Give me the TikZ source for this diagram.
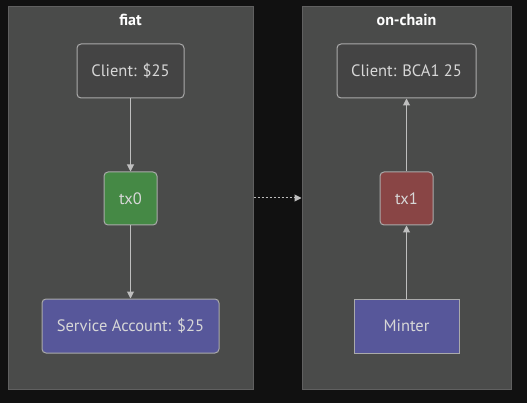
\documentclass[tikz,border=0pt]{standalone}
\usepackage{fontspec}
\setmainfont{PT Sans}
\usetikzlibrary{arrows.meta}
\definecolor{bgcol}{RGB}{17,17,17}
\definecolor{clusterfill}{RGB}{74,75,74}
\definecolor{clusterline}{RGB}{96,96,96}
\definecolor{plainfill}{RGB}{68,68,68}
\definecolor{nodeline}{RGB}{170,170,170}
\definecolor{nodetext}{RGB}{215,215,215}
\definecolor{txgreen}{RGB}{69,137,69}
\definecolor{txred}{RGB}{137,69,69}
\definecolor{acctpurple}{RGB}{87,87,154}
\definecolor{linkcol}{RGB}{190,190,190}
\tikzset{
	cluster/.style={draw=clusterline, fill=clusterfill, line width=1pt, inner sep=0pt},
	title/.style={text=white, font=\fontsize{16}{19}\selectfont\bfseries},
	vertex/.style={draw=nodeline, line width=1pt, rounded corners=4pt, text=nodetext, minimum height=54pt, inner sep=0pt, font=\fontsize{16.5}{19}\selectfont},
	link/.style={draw=linkcol, line width=1pt, -{Triangle[length=7pt,width=7pt]}},
}

\begin{document}
\begin{tikzpicture}[x=1pt,y=-1pt]
		%%%%% START %%%%%
		\fill[bgcol] (0,0) rectangle (527,403);
		\useasboundingbox (0,0) rectangle (527,403);
		
		\node[cluster, minimum width=245pt, minimum height=382pt] (fiat) at (130.5,198) {};
		\node[cluster, minimum width=209pt, minimum height=382pt] (onchain) at (406.5,198) {};
		\node[title] (fiattitle) at (130.5,20) {fiat};
		\node[title] (onchaintitle) at (406.5,20) {on-chain};
		
		\node[vertex, fill=plainfill, minimum width=107pt] (clientfiat) at (130.5,71) {Client: \$25};
		\node[vertex, fill=txgreen, minimum width=53pt, minimum height=53pt] (tx0) at (130.5,198.5) {tx0};
		\node[vertex, fill=acctpurple, minimum width=177pt] (service) at (130.5,326) {Service Account: \$25};
		
		\node[vertex, fill=plainfill, minimum width=139pt] (clientchain) at (406.5,71) {Client: BCA1 25};
		\node[vertex, fill=txred, minimum width=53pt, minimum height=53pt] (tx1) at (406.5,198.5) {tx1};
		\node[vertex, fill=acctpurple, rounded corners=0pt, minimum width=105pt] (minter) at (406.5,326) {Minter};
		
		\draw[link] (clientfiat) -- (tx0);
		\draw[link] (tx0) -- (service);
		\draw[link] (minter) -- (tx1);
		\draw[link] (tx1) -- (clientchain);
		\draw[link, dash pattern=on 2pt off 2pt] (fiat.east) -- (onchain.west);
		%%%%% END %%%%%
\end{tikzpicture}
\end{document}
